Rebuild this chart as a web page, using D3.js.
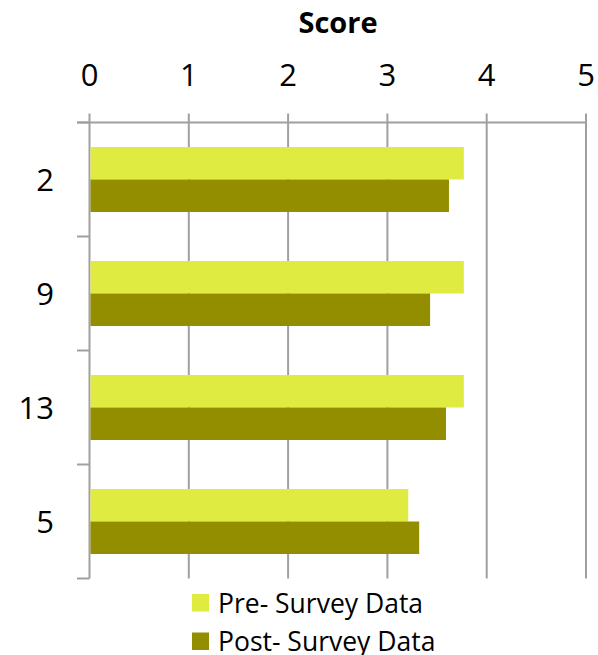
<!DOCTYPE html>
<html>
<head>
<meta charset="utf-8">
<script src="https://cdn.jsdelivr.net/npm/d3@7"></script>
<style>
  body { margin: 0; background: #fff; }
  text { font-family: "Open Sans", sans-serif; fill: #000; }
</style>
</head>
<body>
<script>
var width = 598;
var height = 655;

// data
var categories = ["2", "9", "13", "5"];
var preSurvey = [3.77, 3.77, 3.77, 3.21];
var postSurvey = [3.62, 3.43, 3.59, 3.32];
var seriesNames = ["Pre- Survey Data", "Post- Survey Data"];
var seriesColors = ["#e0eb42", "#938e00"];
var xTicks = [0, 1, 2, 3, 4, 5];

var plotLeft = 89.5, plotRight = 586, plotTop = 122.5, plotBottom = 578.5;

var svg = d3.select("body").append("svg")
  .attr("width", width)
  .attr("height", height);

var x = d3.scaleLinear().domain([0, 5]).range([plotLeft, plotRight]);
var y = d3.scaleBand().domain(categories).range([plotTop, plotBottom]).paddingInner(0.43).paddingOuter(0.215);
var ySub = d3.scaleBand().domain([0, 1]).range([0, y.bandwidth()]);

var grid = "#a0a0a0";

// vertical gridlines
svg.append("g").selectAll("line")
  .data(xTicks)
  .enter().append("line")
  .attr("x1", d => x(d)).attr("x2", d => x(d))
  .attr("y1", plotTop - 9).attr("y2", plotBottom)
  .attr("stroke", grid).attr("stroke-width", 2);

// top axis line
svg.append("line")
  .attr("x1", 77).attr("x2", plotRight)
  .attr("y1", plotTop).attr("y2", plotTop)
  .attr("stroke", grid).attr("stroke-width", 2);

// category boundary ticks on the left
var bounds = categories.map(c => y(c) - y.step() * y.paddingInner() / 2);
bounds.push(plotBottom);
svg.append("g").selectAll("line")
  .data(bounds)
  .enter().append("line")
  .attr("x1", 77).attr("x2", plotLeft)
  .attr("y1", d => d).attr("y2", d => d)
  .attr("stroke", grid).attr("stroke-width", 2);

// bars
var rows = categories.map((c, i) => ({ cat: c, vals: [preSurvey[i], postSurvey[i]] }));
var g = svg.append("g").selectAll("g")
  .data(rows)
  .enter().append("g")
  .attr("transform", d => "translate(0," + y(d.cat) + ")");

g.selectAll("rect")
  .data(d => d.vals)
  .enter().append("rect")
  .attr("x", x(0) + 1)
  .attr("y", (d, i) => ySub(i))
  .attr("width", d => x(d) - x(0) - 1)
  .attr("height", ySub.bandwidth())
  .attr("fill", (d, i) => seriesColors[i]);

// x tick labels
svg.append("g").selectAll("text")
  .data(xTicks)
  .enter().append("text")
  .attr("x", d => x(d))
  .attr("y", 86)
  .attr("text-anchor", "middle")
  .style("font-size", "31px")
  .text(d => d);

// title
svg.append("text")
  .attr("x", 338)
  .attr("y", 33)
  .attr("text-anchor", "middle")
  .style("font-size", "29px")
  .style("font-weight", "bold")
  .text("Score");

// category labels
svg.append("g").selectAll("text")
  .data(categories)
  .enter().append("text")
  .attr("x", 54)
  .attr("y", d => y(d) + y.bandwidth() / 2 + 11)
  .attr("text-anchor", "end")
  .style("font-size", "31px")
  .text(d => d);

// legend
var legend = svg.append("g").selectAll("g")
  .data(seriesNames)
  .enter().append("g")
  .attr("transform", (d, i) => "translate(192," + (594 + i * 38.5) + ")");

legend.append("rect")
  .attr("width", 17).attr("height", 17.5)
  .attr("fill", (d, i) => seriesColors[i]);

legend.append("text")
  .attr("x", 26)
  .attr("y", 18.5)
  .style("font-size", "26.5px")
  .text(d => d);
</script>
</body>
</html>
